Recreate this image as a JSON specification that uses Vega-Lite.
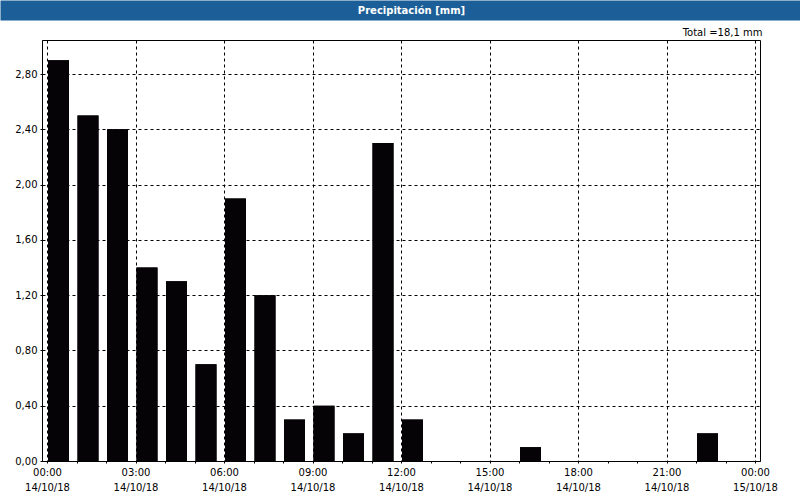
{
  "$schema": "https://vega.github.io/schema/vega-lite/v6.json",
  "background": "white",
  "autosize": {"type": "none"},
  "padding": {"left": 42, "top": 40, "right": 40, "bottom": 39},
  "width": 718,
  "height": 421,
  "config": {
    "font": "DejaVu Sans",
    "view": {"stroke": "black", "strokeWidth": 1},
    "axis": {
      "labelFont": "DejaVu Sans",
      "labelFontSize": 10,
      "labelColor": "#000000",
      "domainColor": "#000000",
      "tickColor": "#000000",
      "gridColor": "#000000",
      "gridDash": [3, 3],
      "gridOpacity": 1,
      "tickSize": 2
    }
  },
  "data": {"values": [
    {"hora": "2018-10-14T00:00:00Z", "mm": 2.9},
    {"hora": "2018-10-14T01:00:00Z", "mm": 2.5},
    {"hora": "2018-10-14T02:00:00Z", "mm": 2.4},
    {"hora": "2018-10-14T03:00:00Z", "mm": 1.4},
    {"hora": "2018-10-14T04:00:00Z", "mm": 1.3},
    {"hora": "2018-10-14T05:00:00Z", "mm": 0.7},
    {"hora": "2018-10-14T06:00:00Z", "mm": 1.9},
    {"hora": "2018-10-14T07:00:00Z", "mm": 1.2},
    {"hora": "2018-10-14T08:00:00Z", "mm": 0.3},
    {"hora": "2018-10-14T09:00:00Z", "mm": 0.4},
    {"hora": "2018-10-14T10:00:00Z", "mm": 0.2},
    {"hora": "2018-10-14T11:00:00Z", "mm": 2.3},
    {"hora": "2018-10-14T12:00:00Z", "mm": 0.3},
    {"hora": "2018-10-14T13:00:00Z", "mm": 0},
    {"hora": "2018-10-14T14:00:00Z", "mm": 0},
    {"hora": "2018-10-14T15:00:00Z", "mm": 0},
    {"hora": "2018-10-14T16:00:00Z", "mm": 0.1},
    {"hora": "2018-10-14T17:00:00Z", "mm": 0},
    {"hora": "2018-10-14T18:00:00Z", "mm": 0},
    {"hora": "2018-10-14T19:00:00Z", "mm": 0},
    {"hora": "2018-10-14T20:00:00Z", "mm": 0},
    {"hora": "2018-10-14T21:00:00Z", "mm": 0},
    {"hora": "2018-10-14T22:00:00Z", "mm": 0.2},
    {"hora": "2018-10-14T23:00:00Z", "mm": 0}
  ]},
  "resolve": {"axis": {"x": "independent"}},
  "layer": [
    {
      "mark": {"type": "bar", "width": 21, "xOffset": 11.5, "color": "#060306"},
      "encoding": {
        "x": {
          "field": "hora",
          "type": "temporal",
          "scale": {
            "type": "utc",
            "domain": [
              {"year": 2018, "month": 10, "date": 14, "hours": 0, "utc": true},
              {"year": 2018, "month": 10, "date": 15, "hours": 0, "utc": true}
            ],
            "nice": false
          },
          "axis": {
            "title": null,
            "orient": "bottom",
            "values": [
              {"year": 2018, "month": 10, "date": 14, "hours": 0, "utc": true},
              {"year": 2018, "month": 10, "date": 14, "hours": 1, "utc": true},
              {"year": 2018, "month": 10, "date": 14, "hours": 2, "utc": true},
              {"year": 2018, "month": 10, "date": 14, "hours": 3, "utc": true},
              {"year": 2018, "month": 10, "date": 14, "hours": 4, "utc": true},
              {"year": 2018, "month": 10, "date": 14, "hours": 5, "utc": true},
              {"year": 2018, "month": 10, "date": 14, "hours": 6, "utc": true},
              {"year": 2018, "month": 10, "date": 14, "hours": 7, "utc": true},
              {"year": 2018, "month": 10, "date": 14, "hours": 8, "utc": true},
              {"year": 2018, "month": 10, "date": 14, "hours": 9, "utc": true},
              {"year": 2018, "month": 10, "date": 14, "hours": 10, "utc": true},
              {"year": 2018, "month": 10, "date": 14, "hours": 11, "utc": true},
              {"year": 2018, "month": 10, "date": 14, "hours": 12, "utc": true},
              {"year": 2018, "month": 10, "date": 14, "hours": 13, "utc": true},
              {"year": 2018, "month": 10, "date": 14, "hours": 14, "utc": true},
              {"year": 2018, "month": 10, "date": 14, "hours": 15, "utc": true},
              {"year": 2018, "month": 10, "date": 14, "hours": 16, "utc": true},
              {"year": 2018, "month": 10, "date": 14, "hours": 17, "utc": true},
              {"year": 2018, "month": 10, "date": 14, "hours": 18, "utc": true},
              {"year": 2018, "month": 10, "date": 14, "hours": 19, "utc": true},
              {"year": 2018, "month": 10, "date": 14, "hours": 20, "utc": true},
              {"year": 2018, "month": 10, "date": 14, "hours": 21, "utc": true},
              {"year": 2018, "month": 10, "date": 14, "hours": 22, "utc": true},
              {"year": 2018, "month": 10, "date": 14, "hours": 23, "utc": true},
              {"year": 2018, "month": 10, "date": 15, "hours": 0, "utc": true}
            ],
            "labelExpr": "utchours(datum.value) % 3 == 0 ? [utcFormat(datum.value, '%H:%M'), utcFormat(datum.value, '%d/%m/%y')] : ''",
            "labelOverlap": false,
            "labelFlush": false,
            "labelBound": false,
            "labelPadding": 4,
            "labelLineHeight": 15,
            "grid": true,
            "gridOpacity": {"condition": {"test": "utchours(datum.value) % 3 == 0", "value": 1}, "value": 0}
          }
        },
        "y": {
          "field": "mm",
          "type": "quantitative",
          "scale": {"domain": [0, 3.046], "nice": false, "zero": true},
          "axis": {
            "title": null,
            "values": [0, 0.2, 0.4, 0.6, 0.8, 1.0, 1.2, 1.4, 1.6, 1.8, 2.0, 2.2, 2.4, 2.6, 2.8, 3.0],
            "labelExpr": "datum.value > 2.95 ? 'mm' : replace(format(datum.value, '.2f'), '.', ',')",
            "labelPadding": 3,
            "grid": true
          }
        }
      }
    },
    {
      "mark": {"type": "bar", "width": 21, "xOffset": 11.5, "color": "#060306"},
      "encoding": {
        "x": {
          "field": "hora",
          "type": "temporal",
          "axis": {
            "orient": "top",
            "offset": 20,
            "domain": false,
            "grid": false,
            "ticks": true,
            "values": [{"year": 2018, "month": 10, "date": 14, "hours": 12, "utc": true}],
            "tickSize": 20,
            "tickWidth": 802,
            "tickColor": "#1c5f98",
            "tickCap": "butt",
            "labelExpr": "'Precipitación [mm]'",
            "labelColor": "#ffffff",
            "labelFontWeight": "bold",
            "labelFontSize": 10,
            "labelBaseline": "middle",
            "labelPadding": -10,
            "labelOffset": 10,
            "labelOverlap": false,
            "labelBound": false,
            "labelFlush": false,
            "title": "Total =18,1 mm",
            "titleX": 720,
            "titleY": 12,
            "titleAlign": "right",
            "titleAngle": 0,
            "titleBaseline": "middle",
            "titleFontSize": 10,
            "titleFontWeight": "normal",
            "titleColor": "#000000"
          }
        },
        "y": {"field": "mm", "type": "quantitative"}
      }
    }
  ]
}
